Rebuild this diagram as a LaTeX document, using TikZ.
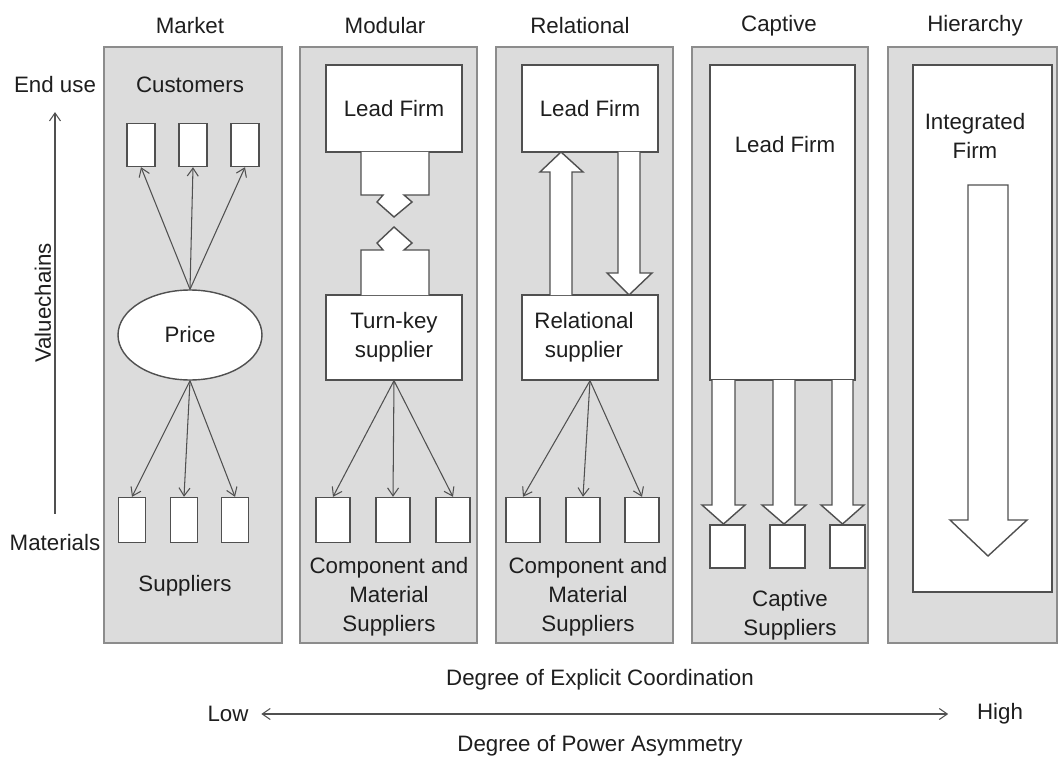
\documentclass[tikz,border=0pt]{standalone}
\usepackage{fontspec}
\setmainfont{Liberation Sans}
\usetikzlibrary{arrows.meta,shapes.geometric}

\definecolor{panelgray}{HTML}{DCDCDC}
\definecolor{panelline}{HTML}{8C8C8C}
\definecolor{linegray}{HTML}{505050}
\definecolor{textgray}{HTML}{1E1E1E}

\begin{document}
\begin{tikzpicture}[x=0.02cm, y=-0.02cm,
    panel/.style={fill=panelgray, draw=panelline, line width=0.9pt},
    box/.style={draw=linegray, fill=white, line width=0.8pt, inner sep=0pt, align=center, font=\fontsize{12.7}{16.4}\selectfont, text=textgray},
    lbl/.style={font=\fontsize{12.7}{16.4}\selectfont, text=textgray, align=center, inner sep=2pt},
    arr/.style={-{Straight Barb[length=1.6mm,width=2.2mm]}, draw=linegray, line width=0.6pt},
    hollow/.style={fill=white, draw=linegray, line width=0.8pt, line join=miter},
]
\useasboundingbox (0,0) rectangle (1058,760);

% Governance columns
\draw[panel] (104,47) rectangle (282,643);
\draw[panel] (300,47) rectangle (477,643);
\draw[panel] (496,47) rectangle (673,643);
\draw[panel] (692,47) rectangle (868,643);
\draw[panel] (888,47) rectangle (1057,643);

\node[lbl] (hmarket) at (190,26) {Market};
\node[lbl] (hmodular) at (385,26) {Modular};
\node[lbl] (hrelational) at (580,26) {Relational};
\node[lbl] (hcaptive) at (779,26) {Captive};
\node[lbl] (hhierarchy) at (975,26) {Hierarchy};

% Value chain axis
\node[lbl] (enduse) at (55,85) {End use};
\node[lbl] (materials) at (55,543) {Materials};
\node[lbl, rotate=90] (valuechains) at (43,303) {Valuechains};
\draw[arr, shorten <=0.34cm, shorten >=0.3cm] (materials) -- (enduse);

% Market
\node[lbl] (customers) at (190,85) {Customers};
\node[box, minimum width=0.56cm, minimum height=0.86cm] (cust1) at (141,145) {};
\node[box, minimum width=0.56cm, minimum height=0.86cm] (cust2) at (193,145) {};
\node[box, minimum width=0.56cm, minimum height=0.86cm] (cust3) at (245,145) {};
\node[box, ellipse, minimum width=2.88cm, minimum height=1.8cm] (price) at (190,335) {Price};
\node[box, minimum width=0.54cm, minimum height=0.9cm] (msup1) at (132,520) {};
\node[box, minimum width=0.54cm, minimum height=0.9cm] (msup2) at (184,520) {};
\node[box, minimum width=0.54cm, minimum height=0.9cm] (msup3) at (235,520) {};
\node[lbl] (suppliers) at (185,586) {Suppliers};

\draw[arr] (price.north) -- (cust1.south);
\draw[arr] (price.north) -- (cust2.south);
\draw[arr] (price.north) -- (cust3.south);
\draw[arr] (price.south) -- (msup1.north);
\draw[arr] (price.south) -- (msup2.north);
\draw[arr] (price.south) -- (msup3.north);

% Modular
\node[box, minimum width=2.72cm, minimum height=1.74cm] (modfirm) at (394,108.5) {Lead Firm};
\node[box, minimum width=2.72cm, minimum height=1.7cm] (turnkey) at (394,337.5) {Turn-key\\supplier};
\filldraw[hollow] (361,152) -- (361,195) -- (383,195) -- (377,202) -- (394,217) -- (412,202) -- (404,195) -- (429,195) -- (429,152);
\filldraw[hollow] (361,295) -- (361,250) -- (383,250) -- (377,243) -- (394,227) -- (412,243) -- (404,250) -- (429,250) -- (429,295);
\node[box, minimum width=0.68cm, minimum height=0.9cm] (modsup1) at (333,520) {};
\node[box, minimum width=0.68cm, minimum height=0.9cm] (modsup2) at (393,520) {};
\node[box, minimum width=0.68cm, minimum height=0.9cm] (modsup3) at (453,520) {};
\node[lbl] (modcomp) at (389,597) {Component and\\Material\\Suppliers};

\draw[arr] (turnkey.south) -- (modsup1.north);
\draw[arr] (turnkey.south) -- (modsup2.north);
\draw[arr] (turnkey.south) -- (modsup3.north);

% Relational
\node[box, minimum width=2.72cm, minimum height=1.74cm] (relfirm) at (590,108.5) {Lead Firm};
\node[box, minimum width=2.72cm, minimum height=1.7cm] (relsup) at (590,337.5) {};
\node[lbl] (relsuptxt) at (584,337.5) {Relational\\supplier};
\filldraw[hollow] (550,295) -- (550,172) -- (540,172) -- (561,152) -- (583,172) -- (572,172) -- (572,295);
\filldraw[hollow] (618,152) -- (618,273) -- (607,273) -- (629,295) -- (652,273) -- (640,273) -- (640,152);
\node[box, minimum width=0.68cm, minimum height=0.9cm] (relsup1) at (523,520) {};
\node[box, minimum width=0.68cm, minimum height=0.9cm] (relsup2) at (583,520) {};
\node[box, minimum width=0.68cm, minimum height=0.9cm] (relsup3) at (642,520) {};
\node[lbl] (relcomp) at (588,597) {Component and\\Material\\Suppliers};

\draw[arr] (relsup.south) -- (relsup1.north);
\draw[arr] (relsup.south) -- (relsup2.north);
\draw[arr] (relsup.south) -- (relsup3.north);

% Captive
\node[box, minimum width=2.9cm, minimum height=6.3cm] (capfirm) at (782.5,222.5) {};
\node[lbl] (capfirmtxt) at (785,145) {Lead Firm};
\filldraw[hollow] (712,380) -- (712,505) -- (702,505) -- (723.5,524) -- (745,505) -- (735,505) -- (735,380);
\filldraw[hollow] (773,380) -- (773,505) -- (762,505) -- (784,524) -- (806,505) -- (795,505) -- (795,380);
\filldraw[hollow] (832,380) -- (832,505) -- (821,505) -- (842.5,524) -- (864,505) -- (853,505) -- (853,380);
\node[box, minimum width=0.7cm, minimum height=0.86cm] (capsup1) at (727.5,546.5) {};
\node[box, minimum width=0.7cm, minimum height=0.86cm] (capsup2) at (787.5,546.5) {};
\node[box, minimum width=0.7cm, minimum height=0.86cm] (capsup3) at (847.5,546.5) {};
\node[lbl] (capsuppliers) at (790,615) {Captive\\Suppliers};

% Hierarchy
\node[box, minimum width=2.78cm, minimum height=10.54cm] (intfirm) at (982.5,328.5) {};
\node[lbl] (intfirmtxt) at (975,136) {Integrated\\Firm};
\filldraw[hollow] (968,185) -- (968,520) -- (950,520) -- (988,556) -- (1027,520) -- (1008,520) -- (1008,185) -- cycle;

% Coordination / power axis
\node[lbl] (coord) at (600,680) {Degree of Explicit Coordination};
\node[lbl] (power) at (600,746) {Degree of Power Asymmetry};
\node[lbl] (low) at (228,714) {Low};
\node[lbl] (high) at (1000,714) {High};
\draw[arr, {Straight Barb[length=1.6mm,width=2.2mm]}-{Straight Barb[length=1.6mm,width=2.2mm]}, shorten <=0.18cm, shorten >=0.5cm] (low) -- (high);
\end{tikzpicture}
\end{document}
